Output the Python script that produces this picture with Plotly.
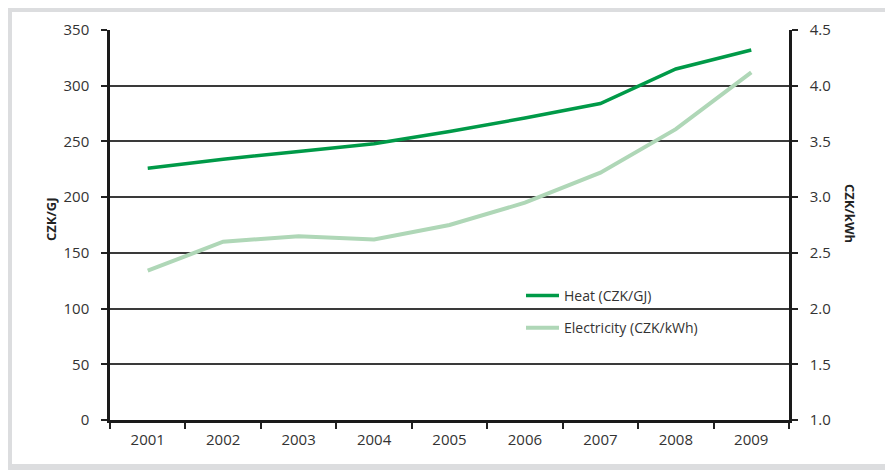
import plotly.graph_objects as go

# ---------------- Data ---------------- #
years = ['2001', '2002', '2003', '2004', '2005', '2006', '2007', '2008', '2009']
heat = [226, 234, 241, 248, 259, 271, 284, 315, 332]                 # CZK/GJ
electricity = [2.34, 2.60, 2.65, 2.62, 2.75, 2.95, 3.22, 3.61, 4.12]  # CZK/kWh

left_ticks = [0, 50, 100, 150, 200, 250, 300, 350]
right_ticks = [1.0, 1.5, 2.0, 2.5, 3.0, 3.5, 4.0, 4.5]

FONT = 'Open Sans'
TXT = '#333333'

# page body has an 8px margin, so the figure starts at screen (8, 8)
OFF = 8
W, H = 893, 471
# plot box in screen pixels
L, R, T, B = 110, 789, 30, 420


def px(x):
    return (x - L) / (R - L)


def py(y):
    return (B - y) / (B - T)


fig = go.Figure()
fig.add_trace(go.Scatter(x=years, y=heat, name='Heat (CZK/GJ)', mode='lines',
                         line=dict(color='#009a48', width=3.5), legendgroup='a'))
fig.add_trace(go.Scatter(x=years, y=electricity, name='Electricity (CZK/kWh)', mode='lines',
                         line=dict(color='#afd7b7', width=4), yaxis='y2', legendgroup='b'))

axis_common = dict(ticks='outside', ticklen=6, tickcolor='#222', tickwidth=1.5,
                   showline=True, linecolor='#1a1a1a', linewidth=2.5,
                   tickfont=dict(size=15, color=TXT), automargin=False)

fig.update_layout(
    width=W, height=H,
    margin=dict(l=L - OFF, r=W - (R - OFF), t=T - OFF, b=H - (B - OFF)),
    paper_bgcolor='white', plot_bgcolor='white',
    font=dict(family=FONT, size=15, color=TXT),
    xaxis=dict(type='category', range=[-0.5, 8.5], tickson='boundaries',
               showgrid=False, ticklabelstandoff=4, **axis_common),
    yaxis=dict(range=[0, 350], tickvals=left_ticks, showgrid=True,
               gridcolor='#3a3a3a', gridwidth=1.5, zeroline=False,
               ticklabelstandoff=9, **axis_common),
    yaxis2=dict(range=[1.0, 4.5], tickvals=right_ticks, tickformat='.1f',
                overlaying='y', side='right', showgrid=False, zeroline=False,
                ticklabelstandoff=9, **axis_common),
    legend=dict(x=px(521), y=py(280), xanchor='left', yanchor='top',
                bgcolor='rgba(0,0,0,0)', font=dict(size=14, color=TXT),
                tracegroupgap=11, itemwidth=33),
    showlegend=True,
)

# axis titles
fig.add_annotation(text='<b>CZK/GJ</b>', x=px(40), y=py(219), xref='paper', yref='paper',
                   textangle=-90, showarrow=False, font=dict(size=13, color='#222'))
fig.add_annotation(text='<b>CZK/kWh</b>', x=px(861), y=py(213), xref='paper', yref='paper',
                   textangle=90, showarrow=False, font=dict(size=13, color='#222'))

# grey frame around the chart (screen pixels 8..888, 8..467)
fig.add_shape(type='rect', xref='paper', yref='paper',
              x0=px(9), x1=px(888), y0=py(467), y1=py(9),
              line=dict(color='#dcdddf', width=6), layer='below')

fig.write_html('out.html')
